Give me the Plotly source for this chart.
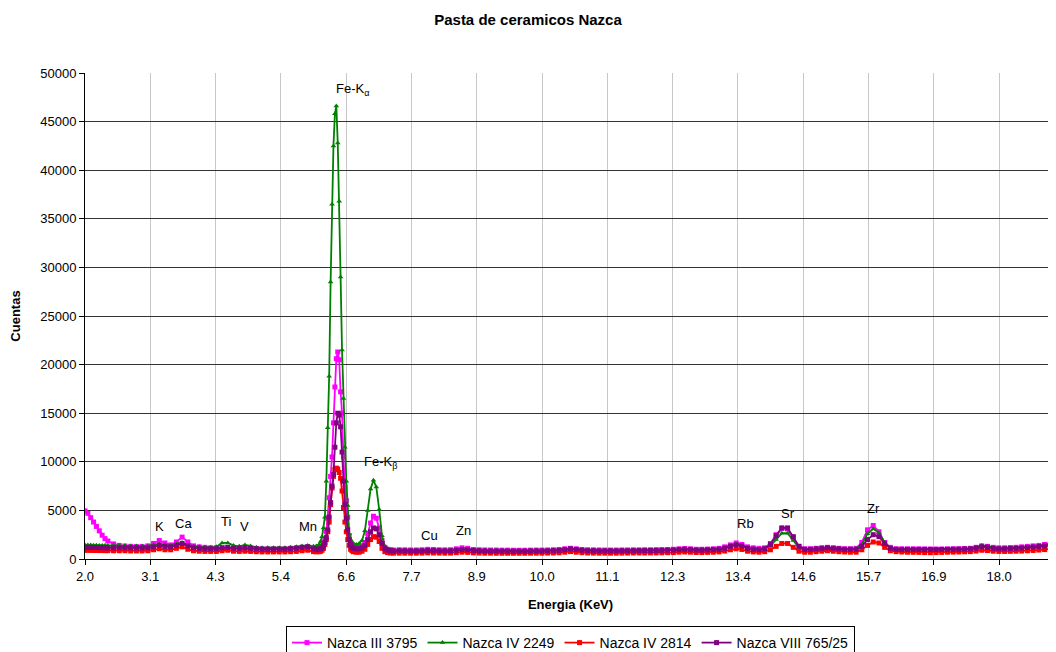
import plotly.graph_objects as go

# ---------------- data ----------------
energy = [
    2.0, 2.05, 2.1, 2.15, 2.2, 2.25, 2.3, 2.35, 2.4, 2.5,
    2.6, 2.7, 2.8, 2.9, 3.0, 3.1, 3.2, 3.3, 3.4, 3.5, 3.6, 3.7, 3.8, 3.9,
    4.0, 4.1, 4.2, 4.3, 4.4, 4.5, 4.6, 4.7, 4.8, 4.9,
    5.0, 5.1, 5.2, 5.3, 5.4, 5.5, 5.6, 5.7, 5.8, 5.9, 6.0, 6.05,
    6.1, 6.125, 6.15, 6.175, 6.2, 6.225, 6.25, 6.275, 6.3, 6.325, 6.35, 6.375,
    6.4, 6.425, 6.45, 6.475, 6.5, 6.525, 6.55, 6.575, 6.6, 6.625, 6.65, 6.675, 6.7,
    6.75, 6.8, 6.85, 6.9, 6.95, 7.0, 7.05, 7.1, 7.15, 7.2, 7.25, 7.3, 7.35, 7.4,
    7.5, 7.6, 7.7, 7.8, 7.9, 8.0, 8.1, 8.2, 8.3, 8.4, 8.5, 8.6, 8.7, 8.8, 8.9,
    9.0, 9.1, 9.2, 9.3, 9.4, 9.5, 9.6, 9.7, 9.8, 9.9,
    10.0, 10.1, 10.2, 10.3, 10.4, 10.5, 10.6, 10.7, 10.8, 10.9,
    11.0, 11.1, 11.2, 11.3, 11.4, 11.5, 11.6, 11.7, 11.8, 11.9,
    12.0, 12.1, 12.2, 12.3, 12.4, 12.5, 12.6, 12.7, 12.8, 12.9,
    13.0, 13.1, 13.2, 13.3, 13.4, 13.5, 13.6, 13.7, 13.8, 13.9,
    14.0, 14.1, 14.2, 14.3, 14.4, 14.5, 14.6, 14.7, 14.8, 14.9,
    15.0, 15.1, 15.2, 15.3, 15.4, 15.5, 15.6, 15.7, 15.8, 15.9,
    16.0, 16.1, 16.2, 16.3, 16.4, 16.5, 16.6, 16.7, 16.8, 16.9,
    17.0, 17.1, 17.2, 17.3, 17.4, 17.5, 17.6, 17.7, 17.8, 17.9,
    18.0, 18.1, 18.2, 18.3, 18.4, 18.5, 18.6, 18.7, 18.8, 18.9,
    19.0,
]

nazca_iii_3795 = [
    4950, 4700, 4250, 3800, 3350, 2900, 2450, 2100, 1850, 1550,
    1400, 1330, 1300, 1280, 1280, 1350, 1600, 1900, 1650, 1450, 1750, 2250, 1750, 1350,
    1250, 1200, 1150, 1150, 1150, 1150, 1100, 1100, 1100, 1100,
    1050, 1050, 1050, 1050, 1050, 1050, 1100, 1150, 1200, 1250, 1100, 1080,
    1100, 1150, 1300, 1600, 2000, 2800, 4200, 6300, 8500, 10500, 14000, 17700,
    20600, 21300, 20500, 17200, 15000, 10500, 7400, 6000, 4300, 2400, 1700, 1400, 1300,
    1250, 1250, 1350, 1700, 2600, 3700, 4400, 4200, 3200, 1900, 1200, 1000, 950, 920,
    950, 940, 930, 930, 950, 1000, 980, 950, 940, 950, 1050, 1150, 1100, 980, 950,
    930, 920, 920, 910, 910, 900, 900, 900, 910, 920,
    920, 930, 950, 980, 1050, 1100, 1050, 980, 950, 940,
    930, 920, 920, 920, 930, 930, 940, 940, 950, 950,
    960, 970, 980, 1000, 1050, 1080, 1050, 1000, 1000, 1020,
    1050, 1100, 1250, 1450, 1650, 1500, 1250, 1150, 1100, 1150,
    1600, 2500, 3150, 3100, 2200, 1300, 1050, 1050, 1100, 1150,
    1200, 1150, 1100, 1050, 1050, 1100, 1700, 3000, 3450, 2800,
    1700, 1200, 1050, 1050, 1050, 1050, 1050, 1040, 1030, 1030,
    1030, 1040, 1050, 1060, 1080, 1100, 1200, 1350, 1300, 1200,
    1150, 1150, 1180, 1200, 1250, 1300, 1350, 1400, 1500, 1600,
    1750,
]

nazca_iv_2249 = [
    1450, 1440, 1430, 1420, 1410, 1400, 1400, 1400, 1400, 1400,
    1400, 1380, 1350, 1350, 1330, 1350, 1450, 1550, 1450, 1400, 1550, 1700, 1450, 1300,
    1250, 1200, 1200, 1250, 1650, 1650, 1400, 1300, 1450, 1350,
    1200, 1150, 1150, 1150, 1150, 1150, 1200, 1250, 1350, 1400, 1300, 1350,
    1500, 1800, 2300, 3200, 4300, 8000, 13500, 18800, 28500, 36500, 42500, 45800,
    46600, 42800, 36800, 29000, 21500, 16500, 11500, 8000, 5500, 2600, 2000, 1700, 1600,
    1500, 1600, 1900, 2900, 5000, 7200, 8100, 7400, 5100, 2400, 1300, 1050, 950, 900,
    900, 890, 880, 880, 890, 920, 900, 890, 880, 890, 950, 1000, 980, 920, 900,
    880, 870, 870, 860, 860, 860, 860, 860, 870, 880,
    880, 890, 900, 920, 980, 1020, 980, 930, 900, 890,
    880, 880, 880, 880, 890, 890, 900, 900, 910, 910,
    920, 930, 940, 960, 1000, 1030, 1000, 960, 960, 980,
    1000, 1050, 1150, 1350, 1500, 1400, 1150, 1050, 1000, 1050,
    1350, 2000, 2650, 2650, 1900, 1150, 950, 970, 1000, 1050,
    1100, 1050, 1000, 980, 980, 1050, 1500, 2600, 3100, 2700,
    1700, 1150, 1000, 990, 990, 990, 990, 980, 980, 980,
    990, 1000, 1010, 1030, 1050, 1080, 1200, 1400, 1300, 1150,
    1080, 1080, 1100, 1120, 1150, 1200, 1250, 1300, 1350, 1420,
    1500,
]

nazca_iv_2814 = [
    900, 900, 890, 880, 880, 870, 870, 860, 860, 850,
    850, 850, 830, 830, 830, 850, 950, 1050, 950, 950, 1100, 1250, 1000, 850,
    800, 780, 780, 780, 850, 900, 800, 780, 800, 780,
    750, 730, 730, 730, 730, 730, 750, 780, 850, 900, 760, 740,
    750, 800, 900, 1100, 1500, 2000, 2800, 3800, 5600, 7300, 8500, 9200,
    9350, 9250, 8900, 8300, 7000, 5300, 3800, 2800, 2000, 1400, 1000, 850, 750,
    700, 700, 800, 1000, 1500, 2000, 2300, 2250, 1800, 1100, 750, 650, 620, 600,
    600, 600, 600, 600, 610, 630, 620, 610, 600, 610, 650, 700, 680, 630, 610,
    600, 600, 590, 590, 590, 590, 590, 590, 600, 600,
    600, 610, 620, 640, 700, 760, 700, 650, 620, 610,
    600, 600, 600, 600, 610, 610, 620, 620, 620, 630,
    630, 640, 650, 660, 700, 720, 700, 670, 670, 680,
    700, 730, 820, 950, 1050, 980, 800, 730, 700, 750,
    950, 1300, 1600, 1600, 1200, 800, 700, 700, 750, 800,
    850, 800, 750, 720, 700, 700, 950, 1400, 1750, 1650,
    1200, 850, 750, 720, 700, 690, 680, 660, 650, 660,
    680, 700, 710, 720, 740, 760, 820, 900, 870, 800,
    780, 780, 790, 800, 820, 850, 880, 920, 970, 1030,
    1100,
]

nazca_viii_765_25 = [
    1200, 1200, 1190, 1180, 1180, 1170, 1160, 1160, 1150, 1150,
    1150, 1150, 1150, 1130, 1130, 1150, 1250, 1400, 1300, 1250, 1400, 1600, 1350, 1150,
    1100, 1050, 1050, 1050, 1150, 1200, 1100, 1100, 1150, 1100,
    1050, 1000, 1000, 1000, 1000, 1000, 1050, 1100, 1200, 1250, 1050, 1000,
    1000, 1050, 1150, 1350, 1700, 2200, 3000, 4300, 5800, 7500, 8700, 11500,
    14000, 15000, 14800, 13600, 11000, 8000, 5600, 4200, 3000, 2000, 1500, 1200, 1100,
    1050, 1050, 1150, 1400, 2000, 2800, 3200, 3100, 2500, 1600, 1050, 900, 850, 820,
    850, 840, 830, 830, 840, 870, 860, 840, 830, 840, 900, 980, 950, 870, 850,
    830, 820, 820, 810, 810, 810, 810, 810, 820, 830,
    830, 840, 860, 890, 960, 1050, 980, 900, 860, 850,
    840, 840, 840, 840, 850, 850, 860, 860, 870, 870,
    880, 890, 900, 920, 970, 1000, 960, 920, 920, 940,
    960, 1000, 1100, 1300, 1450, 1350, 1100, 1000, 970, 1050,
    1500, 2400, 3200, 3200, 2300, 1300, 1000, 1000, 1050, 1100,
    1150, 1100, 1050, 1000, 1000, 1000, 1300, 2000, 2500, 2300,
    1600, 1100, 1000, 980, 980, 980, 980, 970, 970, 970,
    980, 990, 1000, 1010, 1030, 1050, 1120, 1250, 1200, 1100,
    1050, 1060, 1080, 1100, 1130, 1180, 1230, 1280, 1350, 1450,
    1600,
]

series_names = ["Nazca III 3795", "Nazca IV 2249", "Nazca IV 2814", "Nazca VIII 765/25"]
x_tick_labels = ["2.0", "3.1", "4.3", "5.4", "6.6", "7.7", "8.9", "10.0",
                 "11.1", "12.3", "13.4", "14.6", "15.7", "16.9", "18.0"]
y_tick_values = [0, 5000, 10000, 15000, 20000, 25000, 30000, 35000, 40000, 45000, 50000]

for s in (nazca_iii_3795, nazca_iv_2249, nazca_iv_2814, nazca_viii_765_25):
    assert len(s) == len(energy), (len(s), len(energy))

# ---------------- styling ----------------
FONT = "Liberation Sans, Arial, sans-serif"
label_step = 1.1432  # category-axis label interval (keV)
x_tick_vals = [2.0 + i * label_step for i in range(len(x_tick_labels))]

styles = [
    dict(color="#FF00FF", symbol="square", size=5),
    dict(color="#008000", symbol="triangle-up", size=5),
    dict(color="#FF0000", symbol="square", size=5),
    dict(color="#800080", symbol="square", size=5),
]
series = [nazca_iii_3795, nazca_iv_2249, nazca_iv_2814, nazca_viii_765_25]

fig = go.Figure()
for name, ys, st in zip(series_names, series, styles):
    fig.add_trace(go.Scatter(
        x=energy, y=ys, name=name, mode="lines+markers",
        line=dict(color=st["color"], width=1.8),
        marker=dict(color=st["color"], symbol=st["symbol"], size=st["size"], line=dict(width=0)),
    ))

peak_labels = [
    ("Fe-K<sub>α</sub>", 6.68, 48300),
    ("Fe-K<sub>β</sub>", 7.17, 9900),
    ("K", 3.31, 3300), ("Ca", 3.72, 3700), ("Ti", 4.47, 3900), ("V", 4.79, 3300),
    ("Mn", 5.91, 3300), ("Cu", 8.03, 2450), ("Zn", 8.62, 2950),
    ("Rb", 13.56, 3700), ("Sr", 14.30, 4650), ("Zr", 15.81, 5150),
]
for txt, ex, cy in peak_labels:
    fig.add_annotation(x=ex, y=cy, text=txt, showarrow=False,
                       font=dict(family=FONT, size=13, color="black"),
                       xanchor="center", yanchor="middle")

# the page body adds an 8 px offset, so the figure margins are reduced by 8 px
fig.update_layout(
    width=1056, height=652,
    paper_bgcolor="white", plot_bgcolor="white",
    margin=dict(l=77, r=8, t=65, b=101, autoexpand=False),
    font=dict(family=FONT, size=13, color="black"),
    title=dict(text="<b>Pasta de ceramicos Nazca</b>", x=(528 - 8) / 1056, xanchor="center",
               y=1 - 12 / 652, yanchor="middle", font=dict(family=FONT, size=15, color="black")),
    showlegend=True,
    legend=dict(orientation="h", x=0.5, xanchor="center",
                y=-(618 - 551) / 486, yanchor="top",
                bordercolor="black", borderwidth=1, bgcolor="white",
                font=dict(family=FONT, size=14, color="black"),
                itemwidth=30, tracegroupgap=0),
)
fig.update_xaxes(
    range=[2.0, 19.0], tickvals=x_tick_vals, ticktext=x_tick_labels,
    showgrid=True, gridcolor="#C8C8C8", gridwidth=1,
    showline=True, linecolor="black", linewidth=1,
    ticks="outside", ticklen=5, tickcolor="black",
    tickfont=dict(family=FONT, size=13, color="black"),
    zeroline=False, automargin=False,
    title=dict(text="<b>Energia (KeV)</b>", standoff=17, font=dict(family=FONT, size=13, color="black")),
)
fig.update_yaxes(
    range=[0, 50000], tickvals=y_tick_values, ticktext=[str(v) for v in y_tick_values],
    showgrid=True, gridcolor="#333333", gridwidth=1,
    showline=True, linecolor="black", linewidth=1,
    ticks="outside", ticklen=5, tickcolor="black",
    tickfont=dict(family=FONT, size=13, color="black"),
    zeroline=False, automargin=False,
    title=dict(text="<b>Cuentas</b>", standoff=17, font=dict(family=FONT, size=13, color="black")),
)

fig.write_html("out.html")
